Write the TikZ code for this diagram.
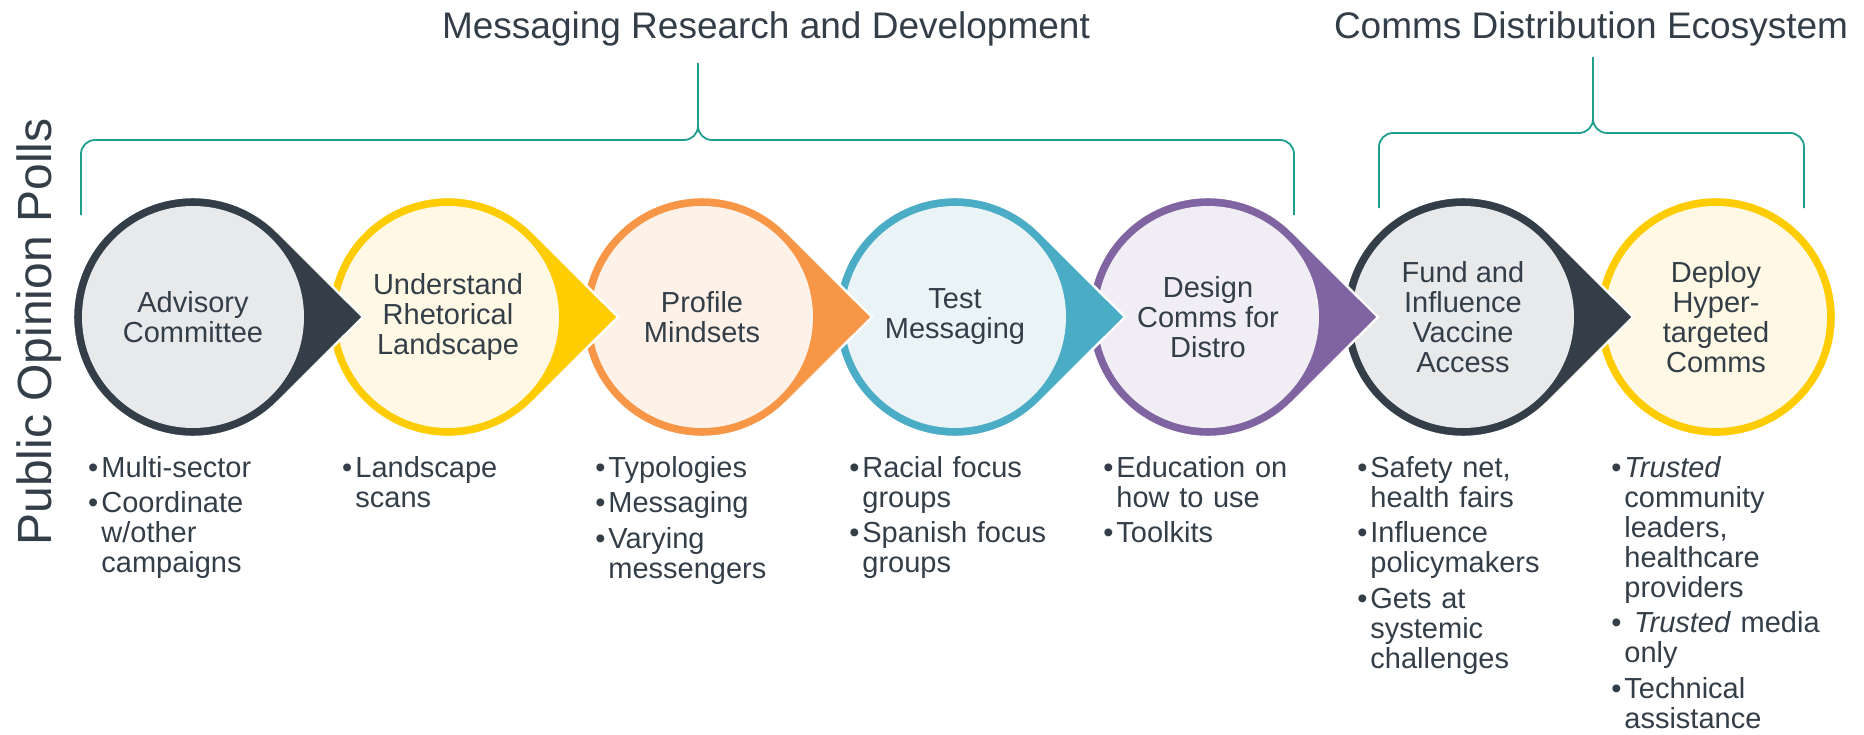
\documentclass[tikz,border=0pt]{standalone}
\usepackage{fontspec}
\setmainfont{Liberation Sans}
\usepackage{xcolor}
\definecolor{slate}{HTML}{343E48}
\definecolor{slatebg}{HTML}{E8E9EB}
\definecolor{gold}{HTML}{FFCC00}
\definecolor{goldbg}{HTML}{FFF8E5}
\definecolor{tang}{HTML}{F79646}
\definecolor{tangbg}{HTML}{FEF2E8}
\definecolor{sky}{HTML}{4BACC6}
\definecolor{skybg}{HTML}{EAF4F7}
\definecolor{plum}{HTML}{8064A2}
\definecolor{plumbg}{HTML}{F0EEF4}
\definecolor{brc}{HTML}{1E9E8C}
\newcommand{\bul}{\leavevmode\llap{\textbullet\kern1.5pt}}

\begin{document}
\begin{tikzpicture}[x=0.5pt,y=-0.5pt,
  stage/.style={text=slate,align=center,inner sep=0pt,font=\fontsize{14.5}{15}\selectfont},
  lst/.style={text=slate,anchor=base west,inner sep=0pt,text width=110pt,align=left,font=\fontsize{14.5}{15}\selectfont},
  hdr/.style={text=slate,anchor=base,inner sep=0pt,font=\fontsize{18.5}{20}\selectfont},
  brace/.style={draw=brc,line width=0.9pt,rounded corners=7pt}]
\useasboundingbox (0,0) rectangle (1864,734);
% brackets over the stages
\draw[brace] (81,215) |- (698,140) -- (698,63);
\draw[brace] (1294,215) |- (698,140) -- (698,63);
\draw[brace] (1379,208) |- (1593,133) -- (1593,57);
\draw[brace] (1804,208) |- (1593,133) -- (1593,57);
\node[hdr] (t1) at (766,38) {Messaging Research and Development};
\node[hdr] (t2) at (1591,38) {Comms Distribution Ecosystem};
\node[text=slate,rotate=90,anchor=base,inner sep=0pt,font=\fontsize{24}{26}\selectfont] (pol) at (51,332) {Public Opinion Polls};
% stages, drawn right to left so each tip lies on the next circle
\foreach \i/\cx/\rc/\fc/\txt in %
{7/1716/gold/goldbg/{Deploy\\Hyper-\\targeted\\Comms},
 6/1463/slate/slatebg/{Fund and\\Influence\\Vaccine\\Access},
 5/1208/plum/plumbg/{Design\\Comms for\\Distro},
 4/955/sky/skybg/{Test\\Messaging},
 3/702/tang/tangbg/{Profile\\Mindsets},
 2/448/gold/goldbg/{Understand\\Rhetorical\\Landscape},
 1/193/slate/slatebg/{Advisory\\Committee}} {
   \ifnum\i<7
   \fill[\rc,draw=white,line width=1.2pt] (\cx+170,317) -- (\cx+84.85,317+84.85)
      arc[start angle=-45,end angle=-315,radius=60pt] -- cycle;
   \else
   \fill[\rc,draw=white,line width=1.2pt] (\cx,317) circle[radius=60pt];
   \fi
   \fill[\fc] (\cx,317) circle[radius=55.5pt];
   \node[stage] (c\i) at (\cx,317) {\txt};
}
% bullet lists
\node[lst] (l1) at (101,477) {\bul Multi-sector\\[2.75pt]\bul Coordinate\\w/other\\campaigns};
\node[lst] (l2) at (355,477) {\bul Landscape\\scans};
\node[lst] (l3) at (608,477) {\bul Typologies\\[2.75pt]\bul Messaging\\[2.75pt]\bul Varying\\messengers};
\node[lst] (l4) at (862,477) {\bul Racial focus\\groups\\[2.75pt]\bul Spanish focus\\groups};
\node[lst] (l5) at (1116,477) {\bul Education on\\how to use\\[2.75pt]\bul Toolkits};
\node[lst] (l6) at (1370,477) {\bul Safety net,\\health fairs\\[2.75pt]\bul Influence\\policymakers\\[2.75pt]\bul Gets at\\systemic\\challenges};
\node[lst] (l7) at (1624,477) {\bul\textit{Trusted}\\community\\leaders,\\healthcare\\providers\\[2.75pt]\bul\ \textit{Trusted} media\\only\\[2.75pt]\bul Technical\\assistance};
\end{tikzpicture}
\end{document}
